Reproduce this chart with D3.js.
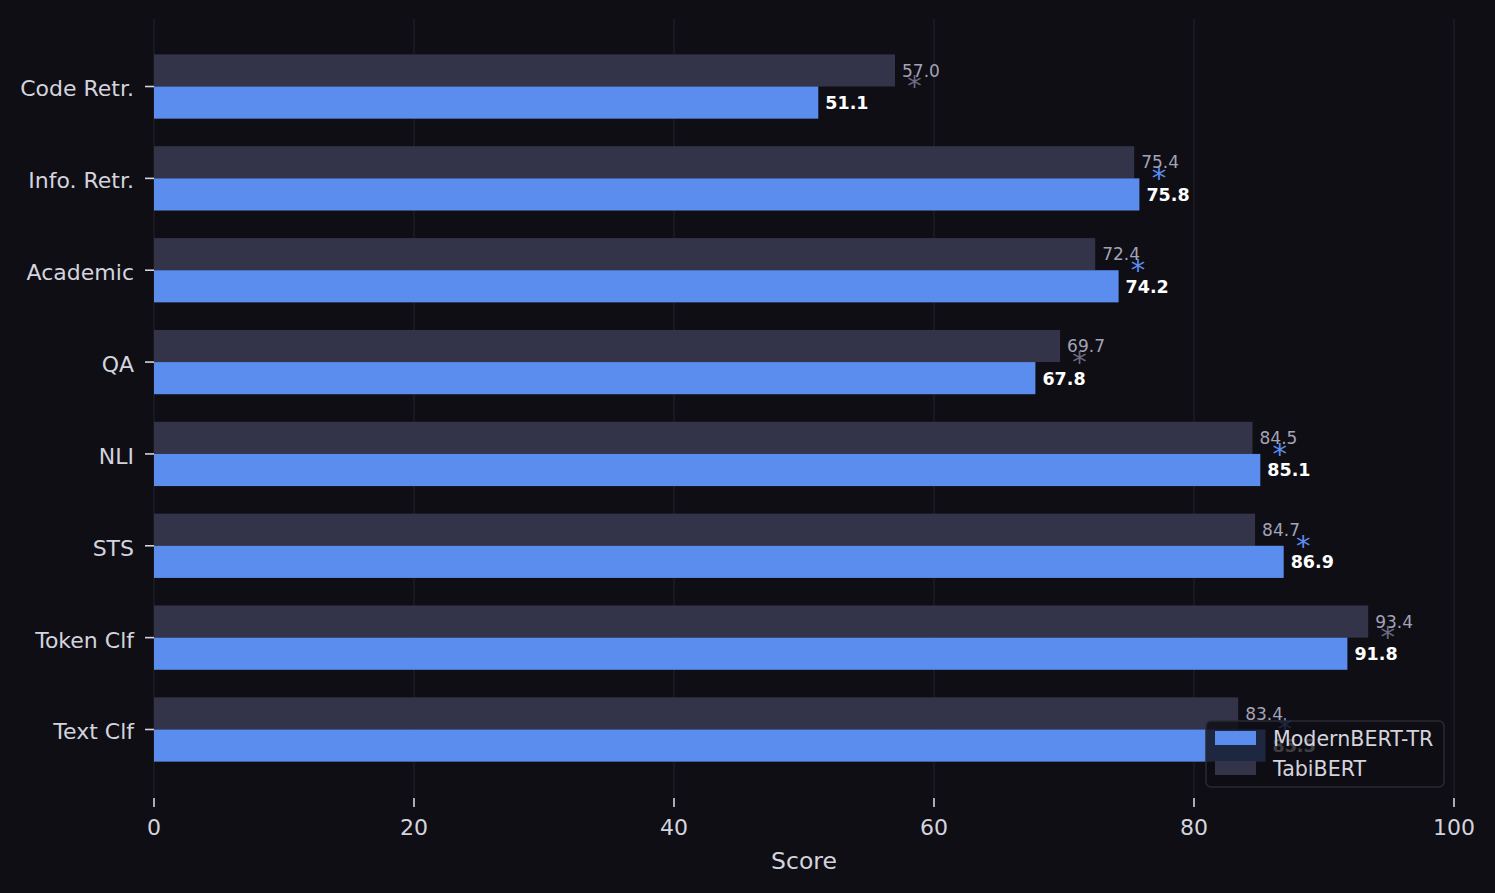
<!DOCTYPE html>
<html>
<head>
<meta charset="utf-8">
<script src="https://cdn.jsdelivr.net/npm/d3@7"></script>
<style>
  html, body { margin: 0; padding: 0; background: #0f0e14; }
  svg { display: block; font-family: "DejaVu Sans", sans-serif; }
</style>
</head>
<body>
<svg id="chart" width="1495" height="893"></svg>
<script>
const categories = ["Code Retr.", "Info. Retr.", "Academic", "QA", "NLI", "STS", "Token Clf", "Text Clf"];
const modernValues = [51.1, 75.8, 74.2, 67.8, 85.1, 86.9, 91.8, 85.5];
const tabiValues = [57.0, 75.4, 72.4, 69.7, 84.5, 84.7, 93.4, 83.4];
const xTicks = [0, 20, 40, 60, 80, 100];
const seriesNames = ["ModernBERT-TR", "TabiBERT"];

const BG = "#0f0e14";
const BLUE = "#5b8dee";
const TABI = "#33334a";
const GRID = "#201f29";
const TEXT = "#d4d4de";
const TABI_TEXT = "#a3a3b8";
const GRAY_STAR = "#6a6a80";

const svg = d3.select("#chart");
svg.append("rect").attr("width", 1495).attr("height", 893).attr("fill", BG);

const plot = { left: 154, right: 1454, top: 19, bottom: 797 };
const x = d3.scaleLinear().domain([0, 100]).range([plot.left, plot.right]);
const y = d3.scaleLinear().domain([-0.735, categories.length - 1 + 0.735]).range([plot.top, plot.bottom]);
const barH = 0.35;

// grid
svg.append("g").selectAll("line").data(xTicks).join("line")
  .attr("x1", d => x(d)).attr("x2", d => x(d))
  .attr("y1", plot.top).attr("y2", plot.bottom)
  .attr("stroke", GRID).attr("stroke-width", 1.2);

const idx = d3.range(categories.length);

// TabiBERT bars (upper)
svg.append("g").selectAll("rect").data(idx).join("rect")
  .attr("x", x(0))
  .attr("y", i => y(i - barH))
  .attr("width", i => x(tabiValues[i]) - x(0))
  .attr("height", y(barH) - y(0))
  .attr("fill", TABI);

// ModernBERT bars (lower)
svg.append("g").selectAll("rect").data(idx).join("rect")
  .attr("x", x(0))
  .attr("y", i => y(i))
  .attr("width", i => x(modernValues[i]) - x(0))
  .attr("height", y(barH) - y(0))
  .attr("fill", BLUE);

const fs = 17;
// Tabi labels
svg.append("g").selectAll("text").data(idx).join("text")
  .attr("x", i => x(tabiValues[i]) + 7)
  .attr("y", i => y(i - barH / 2) + fs * 0.36)
  .attr("fill", TABI_TEXT)
  .attr("font-size", fs)
  .text(i => tabiValues[i].toFixed(1));

// Modern labels
svg.append("g").selectAll("text").data(idx).join("text")
  .attr("x", i => x(modernValues[i]) + 7)
  .attr("y", i => y(i + barH / 2) + fs * 0.38)
  .attr("fill", "#ffffff")
  .attr("font-weight", "bold")
  .attr("font-size", 17.5)
  .text(i => modernValues[i].toFixed(1));

// winner asterisks
const starFs = 29;
svg.append("g").selectAll("text").data(idx).join("text")
  .attr("x", i => x(Math.max(modernValues[i], tabiValues[i]) + 1.5))
  .attr("y", i => y(i) + starFs * 0.34)
  .attr("text-anchor", "middle")
  .attr("font-size", starFs)
  .attr("fill", i => modernValues[i] >= tabiValues[i] ? BLUE : GRAY_STAR)
  .text("*");

// y axis
const yg = svg.append("g");
idx.forEach(i => {
  yg.append("line").attr("x1", plot.left - 9).attr("x2", plot.left)
    .attr("y1", y(i)).attr("y2", y(i))
    .attr("stroke", TEXT).attr("stroke-width", 1.6);
  yg.append("text").attr("x", plot.left - 20).attr("y", y(i) + 22 * 0.36 + 2)
    .attr("text-anchor", "end").attr("font-size", 22).attr("fill", TEXT)
    .text(categories[i]);
});

// x axis
const xg = svg.append("g");
xTicks.forEach(t => {
  xg.append("line").attr("x1", x(t)).attr("x2", x(t))
    .attr("y1", plot.bottom + 1).attr("y2", plot.bottom + 10)
    .attr("stroke", TEXT).attr("stroke-width", 1.6);
  xg.append("text").attr("x", x(t)).attr("y", 835)
    .attr("text-anchor", "middle").attr("font-size", 22).attr("fill", TEXT)
    .text(t);
});
svg.append("text").attr("x", (plot.left + plot.right) / 2).attr("y", 869)
  .attr("text-anchor", "middle").attr("font-size", 23.5).attr("fill", TEXT)
  .text("Score");

// legend
const lg = svg.append("g");
lg.append("rect").attr("x", 1206).attr("y", 721).attr("width", 238).attr("height", 66)
  .attr("rx", 5).attr("fill", BG).attr("fill-opacity", 0.8)
  .attr("stroke", "#2a2a34").attr("stroke-width", 1.5);
const legendColors = [BLUE, TABI];
seriesNames.forEach((name, k) => {
  const cy = 738 + k * 30;
  lg.append("rect").attr("x", 1215).attr("y", cy - 7).attr("width", 41).attr("height", 14)
    .attr("fill", legendColors[k]);
  lg.append("text").attr("x", 1273).attr("y", cy + 20.6 * 0.36 + 1)
    .attr("font-size", 20.6).attr("fill", TEXT).text(name);
});
</script>
</body>
</html>
